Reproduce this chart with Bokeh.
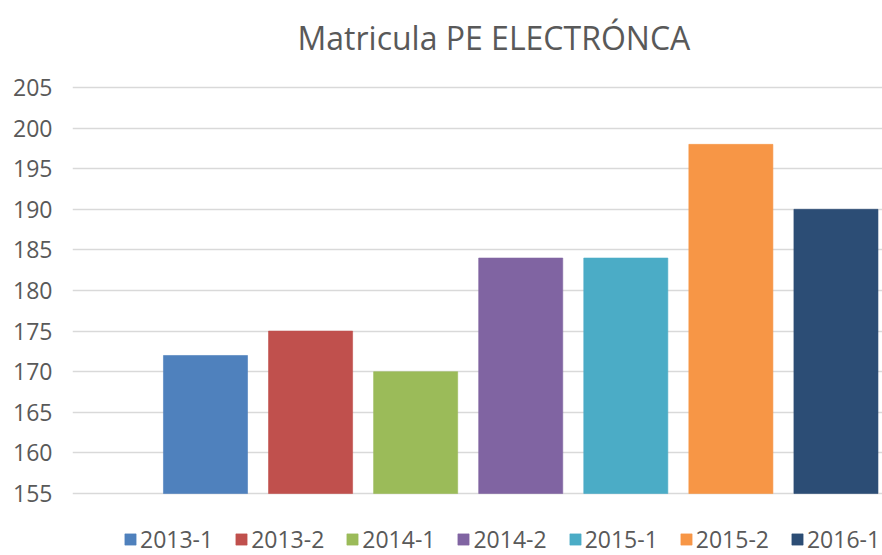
from bokeh.plotting import figure
from bokeh.models import ColumnDataSource, Range1d, FixedTicker, Legend, LegendItem
from bokeh.embed import file_html
from bokeh.resources import INLINE

periods = ["2013-1", "2013-2", "2014-1", "2014-2", "2015-1", "2015-2", "2016-1"]
matricula = [172, 175, 170, 184, 184, 198, 190]
colors = ["#4F81BD", "#C0504D", "#9BBB59", "#8064A2", "#4BACC6", "#F79646", "#2C4D75"]
y_ticks = [155, 160, 165, 170, 175, 180, 185, 190, 195, 200, 205]
y_base = 155

FONT = "Open Sans"
TXT = "#595959"

# frame padded above 205 and below 155 so title sits close and legend row fits inside
p = figure(width=882, height=555, output_backend="svg", toolbar_location=None,
           x_range=Range1d(-0.2657, 7.443), y_range=Range1d(147.37, 208.325),
           min_border_left=72, min_border_right=0, min_border_top=60, min_border_bottom=0,
           title="Matricula PE ELECTRÓNCA")

p.title.align = "left"
p.title.offset = 225
p.title.text_font = FONT
p.title.text_font_size = "32px"
p.title.text_font_style = "normal"
p.title.text_color = TXT
p.title.standoff = 3

src = ColumnDataSource(dict(x=list(range(1, len(periods) + 1)), top=matricula,
                            color=colors, period=periods))
r = p.vbar(x="x", top="top", bottom=y_base, width=0.8, fill_color="color",
           line_color="color", line_alpha=0.6, source=src)

p.outline_line_color = None
p.xaxis.visible = False
p.xgrid.visible = False
p.ygrid.grid_line_color = "#d9d9d9"
p.ygrid.grid_line_width = 1.5

ya = p.yaxis[0]
ya.ticker = FixedTicker(ticks=y_ticks)
ya.axis_line_color = None
ya.major_tick_line_color = None
ya.minor_tick_line_color = None
ya.major_tick_out = 0
ya.major_label_standoff = 20
ya.major_label_text_font = FONT
ya.major_label_text_font_size = "23px"
ya.major_label_text_color = TXT

items = [LegendItem(label=periods[i], renderers=[r], index=i) for i in range(len(periods))]
legend = Legend(items=items, orientation="horizontal", location=(51, 0),
                glyph_width=14, glyph_height=14, label_standoff=3, spacing=21,
                padding=0, margin=0, border_line_color=None, background_fill_alpha=0,
                label_text_font=FONT, label_text_font_size="23px", label_text_color=TXT)
p.add_layout(legend, "center")

open("out.html", "w").write(file_html(p, INLINE))
